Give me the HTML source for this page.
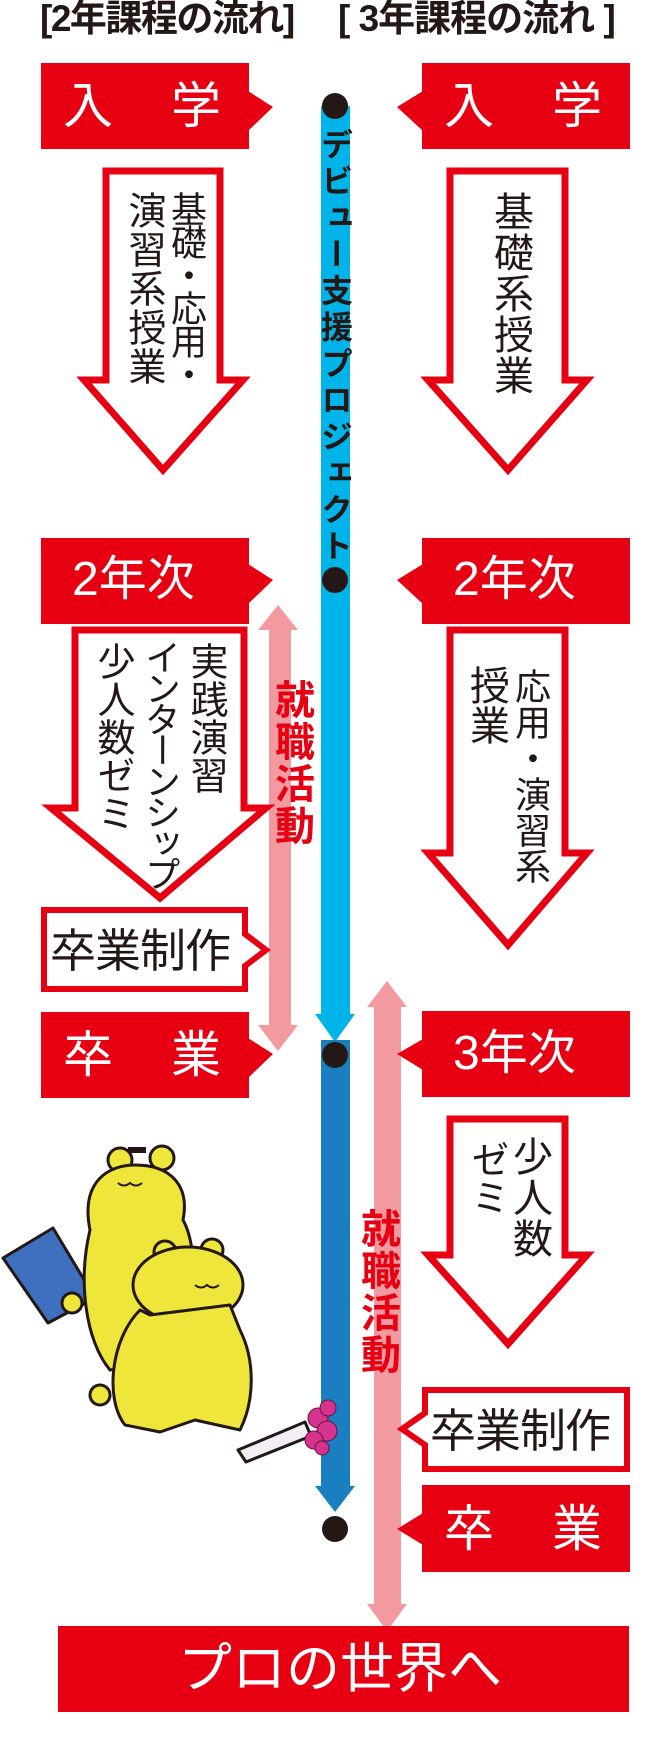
<!DOCTYPE html>
<html><head><meta charset="utf-8">
<style>
html,body{margin:0;padding:0;background:#fff;}
#w{position:relative;width:670px;height:1762px;overflow:hidden;font-family:"Liberation Sans","Noto Sans CJK JP",sans-serif;}
svg{position:absolute;left:0;top:0;}
.t{position:absolute;white-space:nowrap;line-height:1;}
.v{position:absolute;writing-mode:vertical-rl;white-space:nowrap;line-height:1;color:#231815;}
.w{color:#fff;}
</style></head><body><div id="w">
<svg width="670" height="1762" viewBox="0 0 670 1762">
<rect x="321" y="106" width="29" height="910" fill="#00b4ea"/>
<polygon points="315,1014 355,1014 335,1042" fill="#00b4ea"/>
<rect x="321" y="1040" width="29" height="448" fill="#1a7fc0"/>
<polygon points="315,1486 355,1486 335,1512" fill="#1a7fc0"/>
<circle cx="335" cy="106" r="13" fill="#231815"/>
<circle cx="335" cy="580" r="13" fill="#231815"/>
<circle cx="335" cy="1055" r="13" fill="#231815"/>
<circle cx="335" cy="1529" r="13" fill="#231815"/>
<rect x="269" y="628" width="22" height="400" fill="#f29aa0"/>
<polygon points="258,630 298,630 278,605" fill="#f29aa0"/>
<polygon points="258,1025 298,1025 278,1051" fill="#f29aa0"/>
<rect x="374" y="1005" width="27" height="601" fill="#f29aa0"/>
<polygon points="367,1007 407,1007 387,981" fill="#f29aa0"/>
<polygon points="367,1604 407,1604 387,1631" fill="#f29aa0"/>
<g fill="#e60012">
<rect x="41" y="63" width="208" height="86"/><polygon points="248,91 273,107 248,131"/>
<rect x="41" y="538" width="208" height="86"/><polygon points="248,564 273,580 248,604"/>
<rect x="41" y="1012" width="208" height="86"/><polygon points="248,1038 273,1054 248,1078"/>
<rect x="422" y="63" width="208" height="86"/><polygon points="423,91 397,107 423,131"/>
<rect x="422" y="538" width="208" height="86"/><polygon points="423,564 397,580 423,604"/>
<rect x="422" y="1011" width="208" height="86"/><polygon points="423,1039 397,1054 423,1070"/>
<rect x="422" y="1485" width="208" height="87"/><polygon points="423,1513 397,1529 423,1545"/>
<rect x="58" y="1626" width="571" height="86"/>
</g>
<path d="M44,910 H245 V934 L266,950 L245,966 V989 H44 Z" fill="#fff" stroke="#e60012" stroke-width="6"/>
<path d="M627,1390 H425 V1413 L402,1429 L425,1445 V1469 H627 Z" fill="#fff" stroke="#e60012" stroke-width="6"/>
<g fill="#fff" stroke="#e60012" stroke-width="7" stroke-linejoin="miter">
<path d="M106,171 H220 V380 H243 L163,470 L84,380 H106 Z"/>
<path d="M450,171 H565 V380 H587 L508,470 L428,380 H450 Z"/>
<path d="M75,630 H244 V808 H266 L160,898 L51,808 H75 Z"/>
<path d="M450,630 H565 V853 H587 L508,945 L428,853 H450 Z"/>
<path d="M450,1119 H565 V1255 H587 L508,1344 L428,1255 H450 Z"/>
</g>
<g stroke="#231815" stroke-width="3" stroke-linejoin="round">
<polygon points="3,1258 53,1228 95,1298 48,1323" fill="#3f6fbf"/>
<circle cx="120" cy="1160" r="12" fill="#efe63c"/>
<circle cx="162" cy="1158" r="12" fill="#efe63c"/>
<path d="M90,1230 C80,1180 110,1165 135,1165 C170,1165 190,1185 183,1220 C200,1250 195,1320 180,1360 L110,1370 C85,1340 78,1280 90,1230 Z" fill="#efe63c"/>
<circle cx="72" cy="1303" r="10" fill="#efe63c"/>
<circle cx="165" cy="1252" r="11" fill="#efe63c"/>
<circle cx="212" cy="1250" r="11" fill="#efe63c"/>
<ellipse cx="188" cy="1285" rx="55" ry="38" fill="#efe63c"/>
<path d="M140,1310 C110,1340 105,1400 125,1425 L160,1432 L195,1420 L240,1430 C255,1400 255,1360 240,1330 L230,1305 L150,1315 Z" fill="#efe63c"/>
<circle cx="100" cy="1395" r="10" fill="#efe63c"/>
<path d="M238,1450 L305,1422 L311,1436 L246,1462 Z" fill="#f3eef5"/>
</g>
<rect x="128" y="1147" width="18" height="6" fill="#231815"/>
<g fill="#d6338f" stroke="#6a1040" stroke-width="1"><circle cx="318" cy="1418" r="10"/><circle cx="327" cy="1431" r="10"/><circle cx="314" cy="1440" r="9"/><circle cx="328" cy="1408" r="8"/><circle cx="322" cy="1448" r="7"/></g>
<g fill="none" stroke="#231815" stroke-width="2"><path d="M118,1183 q6,5 12,0 q6,5 12,0"/><path d="M195,1285 q6,5 12,0 q6,5 12,0"/></g>
</svg>

<div class="t" style="left:40px;top:0px;font-size:37px;font-weight:bold;color:#231815;letter-spacing:-1.5px;">[2年課程の流れ]</div>
<div class="t" style="left:338px;top:0px;font-size:37px;font-weight:bold;color:#231815;letter-spacing:-1px;">[ 3年課程の流れ ]</div>

<div class="t w" style="left:63px;top:81px;font-size:50px;letter-spacing:4px;">入　学</div>
<div class="t w" style="left:444px;top:81px;font-size:50px;letter-spacing:4px;">入　学</div>
<div class="t w" style="left:72px;top:556px;font-size:48px;">2年次</div>
<div class="t w" style="left:453px;top:556px;font-size:48px;">2年次</div>
<div class="t w" style="left:63px;top:1030px;font-size:50px;letter-spacing:4px;">卒　業</div>
<div class="t w" style="left:453px;top:1030px;font-size:48px;">3年次</div>
<div class="t w" style="left:444px;top:1504px;font-size:50px;letter-spacing:4px;">卒　業</div>
<div class="t w" style="left:178px;top:1642px;font-size:54px;">プロの世界へ</div>
<div class="t" style="left:50px;top:928px;font-size:46px;color:#231815;letter-spacing:-1px;">卒業制作</div>
<div class="t" style="left:430px;top:1408px;font-size:46px;color:#231815;letter-spacing:-1px;">卒業制作</div>

<div class="v" style="left:319px;top:128px;font-size:32px;font-weight:bold;letter-spacing:4.5px;">デビュー支援プロジェクト</div>

<div class="v" style="left:168px;top:191px;font-size:36px;letter-spacing:-3px;">基礎・応用・</div>
<div class="v" style="left:124px;top:191px;font-size:38px;letter-spacing:1px;">演習系授業</div>
<div class="v" style="left:490px;top:191px;font-size:40px;letter-spacing:1px;">基礎系授業</div>

<div class="v" style="left:186px;top:642px;font-size:38px;">実践演習</div>
<div class="v" style="left:142px;top:639px;font-size:36px;letter-spacing:-5px;">インターンシップ</div>
<div class="v" style="left:93px;top:642px;font-size:38px;">少人数ゼミ</div>

<div class="v" style="left:512px;top:668px;font-size:36px;">応用・演習系</div>
<div class="v" style="left:466px;top:665px;font-size:40px;">授業</div>

<div class="v" style="left:509px;top:1136px;font-size:40px;letter-spacing:1px;">少人数</div>
<div class="v" style="left:467px;top:1140px;font-size:38px;">ゼミ</div>

<div class="v" style="left:271px;top:679px;font-size:40px;font-weight:bold;color:#e60012;letter-spacing:2px;">就職活動</div>
<div class="v" style="left:357px;top:1208px;font-size:40px;font-weight:bold;color:#e60012;letter-spacing:2px;">就職活動</div>
</div></body></html>
